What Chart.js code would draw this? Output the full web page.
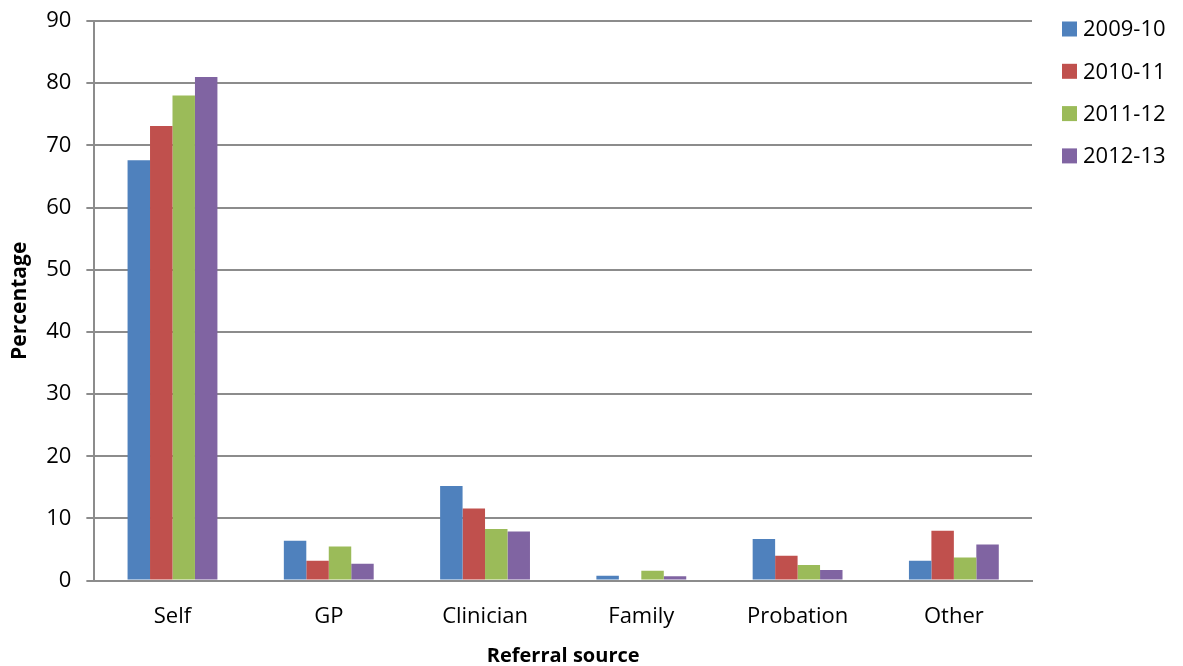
<!DOCTYPE html>
<html>
<head>
<meta charset="utf-8">
<title>Referral source</title>
<script src="https://cdn.jsdelivr.net/npm/chart.js@4.4.1/dist/chart.umd.min.js"></script>
<style>
  html, body { margin: 0; padding: 0; background: #fff; }
  #wrap { position: relative; width: 1183px; height: 666px; }
</style>
</head>
<body>
<div id="wrap"><canvas id="chReferral"></canvas></div>
<script>
/* Referral source by year, clustered bars (Chart.js v4). */
var categories = ["Self", "GP", "Clinician", "Family", "Probation", "Other"];
var years = ["2009-10", "2010-11", "2011-12", "2012-13"];
var v2009 = [67.6, 6.4, 15.2, 0.8, 6.7, 3.2];
var v2010 = [73.1, 3.2, 11.6, 0.0, 4.0, 8.0];
var v2011 = [78.0, 5.5, 8.3, 1.6, 2.5, 3.7];
var v2012 = [81.0, 2.7, 7.9, 0.7, 1.7, 5.8];
var yTicks = [0, 10, 20, 30, 40, 50, 60, 70, 80, 90];

var COLORS = ["#4f81bd", "#c0504d", "#9bbb59", "#8064a2"];
var GRID = "#8c8c8c", FONT = "'Open Sans', sans-serif";

Chart.defaults.font.family = FONT;
Chart.defaults.color = "#000";

// legend drawn to the right of the plot, Excel style
var sideLegend = {
  id: "sideLegend",
  afterDraw: function (chart) {
    var ctx = chart.ctx, a = chart.chartArea;
    ctx.save();
    ctx.font = "22px " + FONT;
    ctx.textBaseline = "middle";
    chart.data.datasets.forEach(function (ds, i) {
      var cy = a.top + 8 + i * 42.3;
      ctx.fillStyle = ds.backgroundColor;
      ctx.fillRect(a.right + 30, cy - 7.5, 15, 15);
      ctx.fillStyle = "#000";
      ctx.fillText(ds.label, a.right + 51, cy + 1);
    });
    ctx.restore();
  }
};

var series = [v2009, v2010, v2011, v2012];
new Chart(document.getElementById("chReferral"), {
  type: "bar",
  data: {
    labels: categories,
    datasets: series.map(function (vals, i) {
      return {
        label: years[i], data: vals, backgroundColor: COLORS[i],
        categoryPercentage: 0.575, barPercentage: 1
      };
    })
  },
  options: {
    responsive: true, maintainAspectRatio: false, animation: false,
    layout: { padding: { left: 7, right: 151, top: 21, bottom: 0 } },
    plugins: { legend: { display: false }, tooltip: { enabled: false } },
    scales: {
      x: {
        grid: { display: false, drawTicks: false },
        border: { color: GRID, width: 2 },
        ticks: { font: { size: 22 }, padding: 23 },
        title: { display: true, text: "Referral source", font: { size: 20, weight: "bold" }, padding: { top: -9, bottom: -2 } }
      },
      y: {
        min: 0, max: 90,
        afterBuildTicks: function (s) { s.ticks = yTicks.map(function (v) { return { value: v }; }); },
        grid: { color: GRID, lineWidth: 2, tickLength: 8 },
        border: { color: GRID, width: 2 },
        ticks: { font: { size: 22, lineHeight: 0.5 }, padding: 15 },
        title: { display: true, text: "Percentage", font: { size: 21, weight: "bold" }, padding: { top: 0, bottom: -1 } }
      }
    }
  },
  plugins: [sideLegend]
});
</script>
</body>
</html>
